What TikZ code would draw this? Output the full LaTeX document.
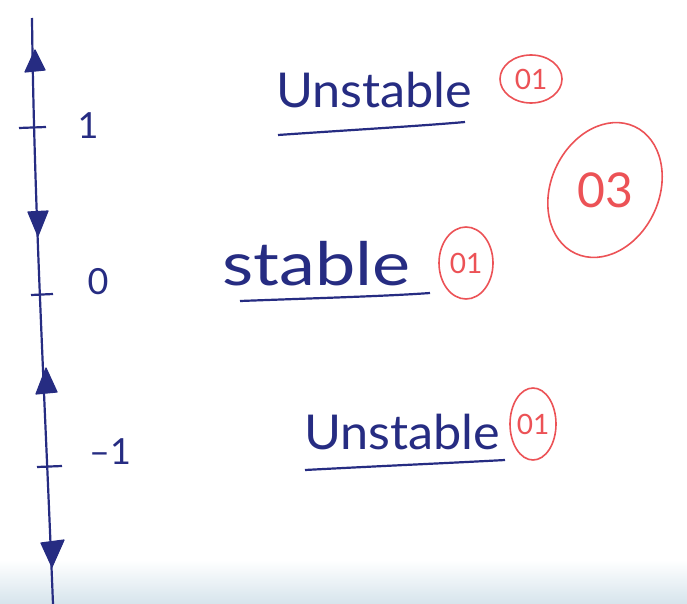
\documentclass[tikz,border=0pt]{standalone}
\usepackage{fontspec}
\setmainfont{Lato}
\usetikzlibrary{shapes.geometric}
\definecolor{ink}{RGB}{38,44,130}
\definecolor{redink}{RGB}{236,82,86}
\tikzset{
  axis/.style={ink, line width=2.2pt},
  tickmark/.style={ink, line width=2.2pt},
  headtri/.style={fill=ink, draw=ink, line width=1.2pt, line join=round},
  word/.style={ink, inner sep=0pt, font=\fontsize{48}{48}\selectfont},
  num/.style={ink, inner sep=0pt, font=\fontsize{36}{36}\selectfont},
  uline/.style={ink, line width=2.2pt},
  grade/.style={draw=redink, text=redink, line width=1.6pt, ellipse, inner sep=0pt, font=\fontsize{28}{28}\selectfont},
}
\begin{document}
\begin{tikzpicture}[x=1pt,y=-1pt]
\useasboundingbox (0,0) rectangle (687,604);
\fill[white] (0,0) rectangle (687,604);
\shade[top color=white, bottom color={rgb,255:red,214;green,228;blue,236}] (0,560) rectangle (687,604);
% axis
\coordinate (top) at (32,18);
\coordinate (bot) at (53,604);
\draw[axis] (top) .. controls (34,200) and (44,380) .. (bot);
% arrowheads
\path[headtri] (35,50) -- (25,72) -- (45,70) -- cycle;
\path[headtri] (28,212) -- (48,211) -- (38,236) -- cycle;
\path[headtri] (46,368) -- (36,394) -- (57,392) -- cycle;
\path[headtri] (41,543) -- (64,540) -- (52,567) -- cycle;
% ticks
\draw[tickmark] (19,128) -- (46,127);
\draw[tickmark] (31,295) -- (53,294);
\draw[tickmark] (37,467) -- (62,466);
% numbers
\node[num] (n1) at (88,126) {1};
\node[num] (n0) at (98,282) {0};
\node[num] (nm1) at (110,452) {–1};
% words
\node[word, anchor=base west, xscale=1.05] (u1) at (276,108) {Unstable};
\draw[uline] (278,135) .. controls (350,130) and (420,126) .. (465,122);
\node[word, anchor=base west, font=\fontsize{60}{60}\selectfont, xscale=1.2] (s) at (222,285) {stable};
\draw[uline] (240,301) .. controls (320,298) and (390,296) .. (430,293);
\node[word, anchor=base west, xscale=1.05] (u2) at (304,449) {Unstable};
\draw[uline] (305,470) .. controls (380,466) and (450,463) .. (505,460);
% grades
\node[grade, minimum width=62pt, minimum height=48pt] (g1) at (531,79) {01};
\node[grade, minimum width=54pt, minimum height=72pt] (g2) at (466,263) {01};
\node[grade, minimum width=46pt, minimum height=72pt] (g3) at (533,424) {01};
\node[grade, minimum width=108pt, minimum height=140pt, rotate=-25, font=\fontsize{48}{48}\selectfont] (g4) at (605,190) {\rotatebox{25}{03}};
\end{tikzpicture}
\end{document}
